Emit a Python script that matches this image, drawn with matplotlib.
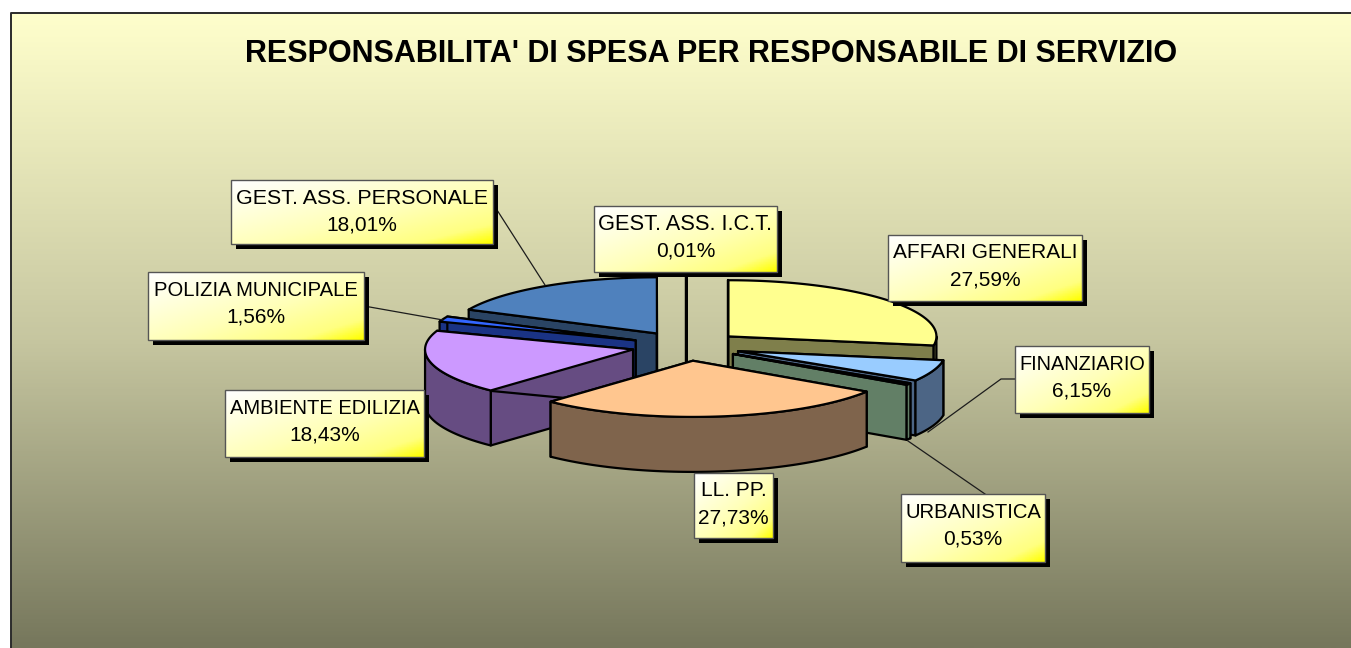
"""Exploded 3D-look pie of spending responsibility per service head."""

import numpy as np
import matplotlib
matplotlib.use("Agg")
import matplotlib.pyplot as plt
from matplotlib.colors import LinearSegmentedColormap
from matplotlib.patches import Polygon, Rectangle

categories = ["AFFARI GENERALI", "FINANZIARIO", "URBANISTICA", "LL. PP.", "AMBIENTE EDILIZIA",
              "POLIZIA MUNICIPALE", "GEST. ASS. PERSONALE", "GEST. ASS. I.C.T."]
values = [27.59, 6.15, 0.53, 27.73, 18.43, 1.56, 18.01, 0.01]
value_labels = ["27,59%", "6,15%", "0,53%", "27,73%", "18,43%", "1,56%", "18,01%", "0,01%"]

title = "RESPONSABILITA' DI SPESA PER RESPONSABILE DI SERVIZIO"

top_colors = ["#FFFF8F", "#99CCFF", "#6E9A72", "#FFC68F", "#CC99FF", "#3366FF", "#4F81BD", "#FFFFCC"]
side_colors = ["#7F7F4B", "#4C6585", "#627F66", "#7F644C", "#664C82", "#1A3385", "#2A4464", "#7F7F66"]

# label boxes in figure pixels: x0, y0, x1, y1
boxes = [(888, 235, 1082, 301), (1015, 346, 1149, 413), (901, 494, 1045, 562), (694, 473, 773, 538),
         (225, 390, 424, 457), (148, 272, 364, 340), (231, 180, 493, 244), (594, 206, 777, 272)]
# the original's hinted text runs a little wider or narrower per label
name_sizes = [15, 14.3, 14.6, 15, 14.5, 14.6, 15.4, 15.7]
leaders = [[(1015, 379), (1001, 379), (928, 432)], [(908, 441), (985, 494)],
           [(364, 306), (443, 320)], [(497, 210), (545, 285)]]

CX, CY = 686.5, 346     # pie centre
RADIUS = 208
SQUASH = 0.27
DEPTH = 55
EXPLODE = 55
DRAW_ORDER = [7, 6, 5, 4, 0, 1, 2, 3]   # back to front

fig = plt.figure(figsize=(13.51, 6.48), dpi=100)
ax = fig.add_axes([0, 0, 1, 1])
plt.rcParams["font.family"] = ["Liberation Sans", "DejaVu Sans"]

bg_cmap = LinearSegmentedColormap.from_list(
    "bg", [(0, "#FFFFCC"), (0.516, "#C6C6A0"), (1, "#76775C")])
ax.imshow(np.linspace(0, 1, 400)[:, None], cmap=bg_cmap, aspect="auto",
          extent=(10.5, 1351, 648, 12.5), zorder=0)
ax.plot([10.5, 10.5, 1351], [648, 12.5, 12.5], color="#2b2b2b", lw=1.4, zorder=1)


def point(apex, angle, drop=0.0):
    """Screen position of a rim point; angle in degrees clockwise from 12 o'clock."""
    a = np.radians(angle)
    return apex[0] + RADIUS * np.sin(a), apex[1] - RADIUS * SQUASH * np.cos(a) + drop


def draw_slice(i, start, end):
    mid = np.radians((start + end) / 2)
    apex = (CX + EXPLODE * np.sin(mid), CY - EXPLODE * SQUASH * np.cos(mid))
    z = 2 + DRAW_ORDER.index(i)
    kw = dict(edgecolor="black", lw=1.6, joinstyle="round", zorder=z)

    # cut faces first, they sit behind the rim wall and the top
    for ang in (start, end):
        rim = point(apex, ang)
        face = [apex, rim, (rim[0], rim[1] + DEPTH), (apex[0], apex[1] + DEPTH)]
        ax.add_patch(Polygon(face, facecolor=side_colors[i], **kw))

    # rim wall, only the part that faces the viewer
    w0, w1 = max(start, 90), min(end, 270)
    if w1 > w0:
        t = np.linspace(w0, w1, 80)
        upper = [point(apex, a) for a in t]
        lower = [point(apex, a, DEPTH) for a in t[::-1]]
        ax.add_patch(Polygon(upper + lower, facecolor=side_colors[i], **kw))

    t = np.linspace(start, end, 120)
    ax.add_patch(Polygon([apex] + [point(apex, a) for a in t], facecolor=top_colors[i], **kw))


angles = np.concatenate([[0], np.cumsum(values)]) / np.sum(values) * 360
for i in DRAW_ORDER:
    draw_slice(i, angles[i], angles[i + 1])

for line in leaders:
    xs, ys = zip(*line)
    ax.plot(xs, ys, color="#1c1c1c", lw=0.9, zorder=12)

box_cmap = LinearSegmentedColormap.from_list("box", [(0, "#FFFFFF"), (0.55, "#FFFFB8"), (0.85, "#FFFF80"), (1, "#FFFF00")])
grid_x, grid_y = np.meshgrid(np.linspace(0, 1, 80), np.linspace(0, 1, 40))
for name, val, size, (x0, y0, x1, y1) in zip(categories, value_labels, name_sizes, boxes):
    ax.add_patch(Rectangle((x0 + 5, y0 + 5), x1 - x0, y1 - y0, facecolor="black", edgecolor="none", zorder=13))
    ax.imshow((grid_x + grid_y) / 2, cmap=box_cmap, aspect="auto", extent=(x0, x1, y1, y0), zorder=14)
    ax.add_patch(Rectangle((x0, y0), x1 - x0, y1 - y0, facecolor="none", edgecolor="#555555", lw=1.0, zorder=15))
    xc = (x0 + x1) / 2
    ax.text(xc, y0 + 18, name, ha="center", va="center", fontsize=size, color="black", zorder=16)
    ax.text(xc, y0 + 45, val, ha="center", va="center", fontsize=15, color="black", zorder=16)

ax.text(711.5, 54, title, ha="center", va="center", fontsize=22, fontweight="bold", color="black", zorder=16)

ax.set_xlim(0, 1351)
ax.set_ylim(648, 0)
ax.axis("off")
fig.savefig("out.png", dpi=100, facecolor="white")
